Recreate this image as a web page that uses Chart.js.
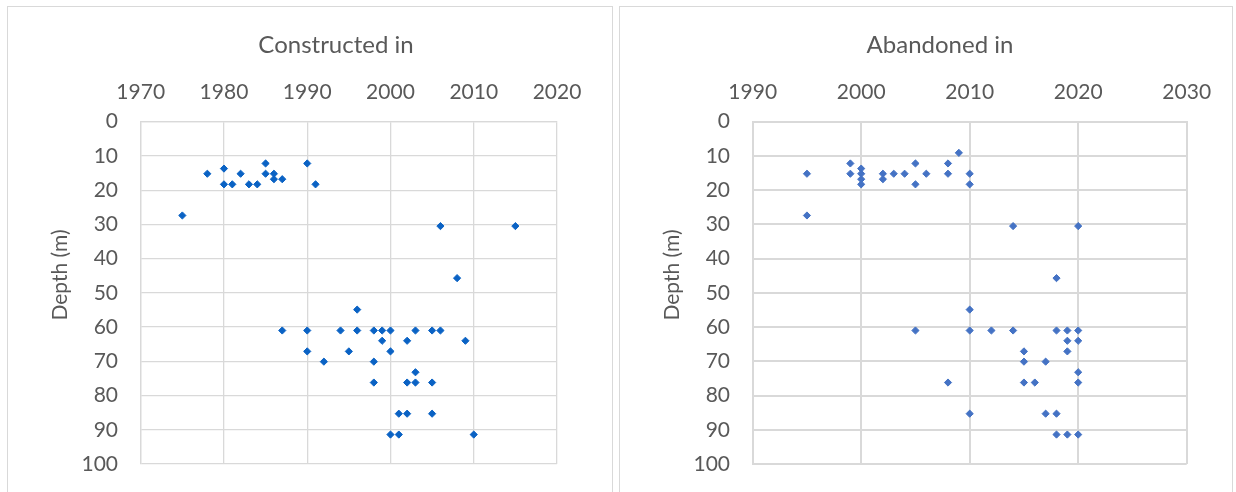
<!DOCTYPE html>
<html>
<head>
<meta charset="utf-8">
<script src="https://cdn.jsdelivr.net/npm/chart.js@4/dist/chart.umd.min.js"></script>
<style>
  body { margin:0; background:#fff; width:1236px; height:492px; overflow:hidden; position:relative; }
  .box { position:absolute; border:1px solid #d9d9d9; background:#fff; }
  #boxLeft { left:7px; top:6px; width:604px; height:490px; border-bottom:none; }
  #boxRight { left:619px; top:6px; width:612px; height:485px; }
  canvas { position:absolute; left:0; top:0; }
</style>
</head>
<body>
<div class="box" id="boxLeft"><canvas id="constructedChart" width="604" height="485"></canvas></div>
<div class="box" id="boxRight"><canvas id="abandonedChart" width="612" height="485"></canvas></div>
<script>
// Depth (m) against year
const constructedYears = [1975,1978,1980,1980,1981,1982,1983,1984,1985,1985,1986,1986,1987,1990,1991,
  2006,2015,2008,1996,1987,1990,1994,1996,1998,1999,2000,2003,2005,2006,1999,2002,2009,
  1990,1995,2000,1992,1998,2003,1998,2002,2003,2005,2001,2002,2005,2000,2001,2010];
const constructedDepths = [27.4,15.2,13.7,18.3,18.3,15.2,18.3,18.3,12.2,15.2,15.2,16.8,16.8,12.2,18.3,
  30.5,30.5,45.7,54.9,61,61,61,61,61,61,61,61,61,61,64,64,64,
  67.1,67.1,67.1,70.1,70.1,73.2,76.2,76.2,76.2,76.2,85.3,85.3,85.3,91.4,91.4,91.4];

const abandonedYears = [1995,1995,1999,1999,2000,2000,2000,2000,2002,2002,2003,2004,2005,2005,2006,2008,2008,2009,2010,2010,
  2014,2020,2018,2010,2005,2010,2012,2014,2018,2019,2020,2019,2020,
  2015,2019,2015,2017,2020,2008,2015,2016,2020,2010,2017,2018,2018,2019,2020];
const abandonedDepths = [15.2,27.4,12.2,15.2,13.7,15.2,16.8,18.3,15.2,16.8,15.2,15.2,12.2,18.3,15.2,12.2,15.2,9.1,15.2,18.3,
  30.5,30.5,45.7,54.9,61,61,61,61,61,61,61,64,64,
  67.1,67.1,70.1,70.1,73.2,76.2,76.2,76.2,76.2,85.3,85.3,85.3,91.4,91.4,91.4];

const depthTicks = [0,10,20,30,40,50,60,70,80,90,100];

const textColor = '#595959';
const gridColor = '#d9d9d9';
const fontFamily = 'Lato, "Open Sans", sans-serif';

// chart title and y-axis title drawn where the original puts them
const labelsPlugin = {
  id: 'fixedLabels',
  afterDraw(chart, args, opts) {
    const ctx = chart.ctx;
    ctx.save();
    ctx.fillStyle = textColor;
    ctx.textAlign = 'center';
    ctx.textBaseline = 'middle';
    ctx.font = '24px ' + fontFamily;
    ctx.fillText(opts.title, opts.titleX, opts.titleY);
    ctx.translate(opts.yLabelX, opts.yLabelY);
    ctx.rotate(-Math.PI / 2);
    ctx.font = '21px ' + fontFamily;
    ctx.fillText('Depth (m)', 0, 0);
    ctx.restore();
  }
};

function makeChart(id, title, titleX, years, depths, xMin, xMax, color, gridWidth, padRight) {
  const ctx = document.getElementById(id).getContext('2d');
  return new Chart(ctx, {
    type: 'scatter',
    data: {
      datasets: [{
        label: title,
        data: years.map((yr, i) => ({x: yr, y: depths[i]})),
        backgroundColor: color,
        borderColor: color,
        borderWidth: 1,
        pointStyle: 'rectRot',
        pointRadius: 3.6,
        pointHoverRadius: 3.6
      }]
    },
    plugins: [labelsPlugin],
    options: {
      responsive: false,
      animation: false,
      layout: { padding: { left: 0, top: 52.4, right: padRight, bottom: 28 } },
      plugins: {
        legend: { display: false },
        tooltip: { enabled: false },
        title: { display: false },
        fixedLabels: { title: title, titleX: titleX, titleY: 38, yLabelX: 52, yLabelY: 268 }
      },
      scales: {
        x: {
          type: 'linear',
          position: 'top',
          min: xMin,
          max: xMax,
          ticks: { stepSize: 10, color: textColor, padding: 17,
                   font: { family: fontFamily, size: 21 },
                   callback: v => String(v) },
          grid: { color: gridColor, lineWidth: gridWidth, drawTicks: false },
          border: { color: gridColor, width: gridWidth },
          afterFit: s => { s.height = 62.3; s.paddingLeft = 0; s.paddingRight = 0; }
        },
        y: {
          type: 'linear',
          reverse: true,
          min: 0,
          max: 100,
          afterBuildTicks: s => { s.ticks = depthTicks.map(v => ({value: v})); },
          ticks: { color: textColor, padding: 22.7,
                   font: { family: fontFamily, size: 21 } },
          grid: { color: gridColor, lineWidth: gridWidth, drawTicks: false },
          border: { color: gridColor, width: gridWidth },
          afterFit: s => { s.width = 132.7; s.paddingTop = 0; s.paddingBottom = 0; }
        }
      }
    }
  });
}

makeChart('constructedChart', 'Constructed in', 328, constructedYears, constructedDepths, 1970, 2020, '#0a62c4', 1.3, 55);
makeChart('abandonedChart', 'Abandoned in', 320, abandonedYears, abandonedDepths, 1990, 2030, '#4472c4', 2, 45.3);
</script>
</body>
</html>
